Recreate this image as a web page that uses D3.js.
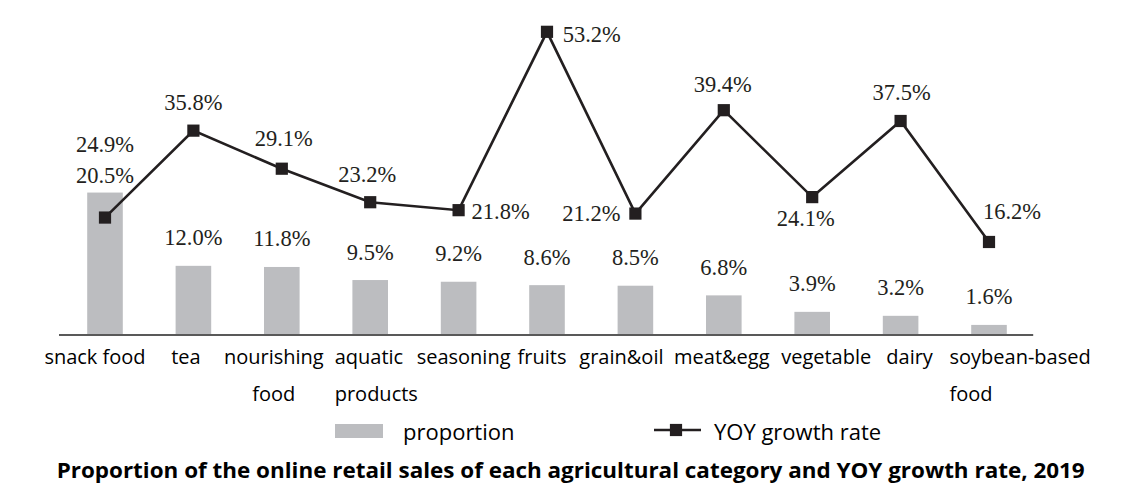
<!DOCTYPE html>
<html>
<head>
<meta charset="utf-8">
<script src="https://cdn.jsdelivr.net/npm/d3@7"></script>
<style>
  html, body { margin: 0; padding: 0; background: #ffffff; }
  svg { display: block; }
</style>
</head>
<body>
<svg id="chart" width="1139" height="498"></svg>
<script>
// ---- data ----
const categories = ["snack food", "tea", "nourishing food", "aquatic products", "seasoning",
  "fruits", "grain&oil", "meat&egg", "vegetable", "dairy", "soybean-based food"];
const proportion = [24.9, 12.0, 11.8, 9.5, 9.2, 8.6, 8.5, 6.8, 3.9, 3.2, 1.6];
const growthRate = [20.5, 35.8, 29.1, 23.2, 21.8, 53.2, 21.2, 39.4, 24.1, 37.5, 16.2];
const seriesNames = ["proportion", "YOY growth rate"];
const titleText = "Proportion of the online retail sales of each agricultural category and YOY growth rate, 2019";

// ---- layout (not data) ----
const catLines = [["snack food"], ["tea"], ["nourishing", "food"], ["aquatic", "products"], ["seasoning"],
  ["fruits"], ["grain&oil"], ["meat&egg"], ["vegetable"], ["dairy"], ["soybean-based", "food"]];
const catLayout = [
  {dx: -10, anchor: "middle"}, {dx: -7.5, anchor: "middle"}, {dx: -8, anchor: "middle"},
  {dx: -35.5, anchor: "start"}, {dx: 5, anchor: "middle"}, {dx: -5, anchor: "middle"},
  {dx: -14, anchor: "middle"}, {dx: -2, anchor: "middle"}, {dx: 14, anchor: "middle"},
  {dx: 9, anchor: "middle"}, {dx: -39.5, anchor: "start"}];
const lineLabelLayout = [
  {dx: 0, dy: -35, anchor: "middle"}, {dx: 0, dy: -20.7, anchor: "middle"},
  {dx: 2, dy: -23, anchor: "middle"}, {dx: -3, dy: -20.5, anchor: "middle"},
  {dx: 13, dy: 9, anchor: "start"}, {dx: 15.7, dy: 10.5, anchor: "start"},
  {dx: -15, dy: 7.4, anchor: "end"}, {dx: -1, dy: -18.5, anchor: "middle"},
  {dx: -6.5, dy: 28.6, anchor: "middle"}, {dx: 1, dy: -21, anchor: "middle"},
  {dx: 23, dy: -22.7, anchor: "middle"}];
const barLabelDy = [-41, -20.5, -20.5, -20.5, -20.5, -20.5, -20.5, -20.5, -20.5, -20.5, -20.5];

const svg = d3.select("#chart");
const x = d3.scaleBand().domain(categories).range([60.8, 1033.2]).paddingInner(0).paddingOuter(0);
const y = d3.scaleLinear().domain([0, 58.8]).range([334, 0]);
const barW = 35.6;
const cx = c => x(c) + x.bandwidth() / 2;

const barColor = "#bcbdc0";
const lineColor = "#231f20";
const serif = "'Liberation Serif', 'Times New Roman', serif";
const sans = "'Open Sans', 'Noto Sans', sans-serif";

// bars
svg.append("g").selectAll("rect").data(categories).join("rect")
  .attr("x", c => cx(c) - barW / 2)
  .attr("y", (c, i) => y(proportion[i]))
  .attr("width", barW)
  .attr("height", (c, i) => y(0) - y(proportion[i]))
  .attr("fill", barColor);

// axis
const axis = svg.append("g").attr("transform", `translate(0,${y(0) + 1})`)
  .call(d3.axisBottom(x).tickSize(0).tickFormat(""));
axis.select(".domain").attr("stroke", "#595959").attr("stroke-width", 2)
  .attr("d", "M59,0H1033.2");

// category labels
const catG = svg.append("g");
categories.forEach((c, i) => {
  const t = catG.append("text")
    .attr("x", cx(c) + catLayout[i].dx)
    .attr("y", 364.3)
    .attr("text-anchor", catLayout[i].anchor)
    .attr("font-family", sans).attr("font-size", 20).attr("fill", "#000");
  catLines[i].forEach((ln, k) => {
    t.append("tspan").attr("x", cx(c) + catLayout[i].dx).attr("dy", k === 0 ? 0 : 36.7).text(ln);
  });
});

// bar labels
svg.append("g").selectAll("text").data(categories).join("text")
  .attr("x", c => cx(c))
  .attr("y", (c, i) => y(proportion[i]) + barLabelDy[i])
  .attr("text-anchor", "middle")
  .attr("font-family", serif).attr("font-size", 22.5).attr("fill", lineColor)
  .text((c, i) => proportion[i].toFixed(1) + "%");

// line
const line = d3.line().x(c => cx(c)).y((c, i) => y(growthRate[i]));
svg.append("path").datum(categories).attr("d", line)
  .attr("fill", "none").attr("stroke", lineColor).attr("stroke-width", 2.6)
  .attr("stroke-linejoin", "miter");

// markers
const mk = 12.2;
svg.append("g").selectAll("rect").data(categories).join("rect")
  .attr("x", c => cx(c) - mk / 2)
  .attr("y", (c, i) => y(growthRate[i]) - mk / 2)
  .attr("width", mk).attr("height", mk).attr("fill", lineColor);

// line labels
svg.append("g").selectAll("text").data(categories).join("text")
  .attr("x", (c, i) => cx(c) + lineLabelLayout[i].dx)
  .attr("y", (c, i) => y(growthRate[i]) + lineLabelLayout[i].dy)
  .attr("text-anchor", (c, i) => lineLabelLayout[i].anchor)
  .attr("font-family", serif).attr("font-size", 22.5).attr("fill", lineColor)
  .text((c, i) => growthRate[i].toFixed(1) + "%");

// legend
const lg = svg.append("g");
lg.append("rect").attr("x", 335).attr("y", 424).attr("width", 48).attr("height", 14).attr("fill", barColor);
lg.append("text").attr("x", 403).attr("y", 439.5)
  .attr("font-family", sans).attr("font-size", 22).attr("fill", "#000").text(seriesNames[0]);
lg.append("line").attr("x1", 654).attr("x2", 701).attr("y1", 430).attr("y2", 430)
  .attr("stroke", lineColor).attr("stroke-width", 2.6);
lg.append("rect").attr("x", 676 - mk / 2).attr("y", 430 - mk / 2).attr("width", mk).attr("height", mk).attr("fill", lineColor);
lg.append("text").attr("x", 714).attr("y", 439.5)
  .attr("font-family", sans).attr("font-size", 22).attr("fill", "#000").text(seriesNames[1]);

// title
svg.append("text").attr("x", 56.7).attr("y", 478)
  .attr("font-family", sans).attr("font-weight", "bold").attr("font-size", 21)
  .attr("textLength", 1028).attr("lengthAdjust", "spacingAndGlyphs")
  .attr("fill", "#000").text(titleText);
</script>
</body>
</html>
